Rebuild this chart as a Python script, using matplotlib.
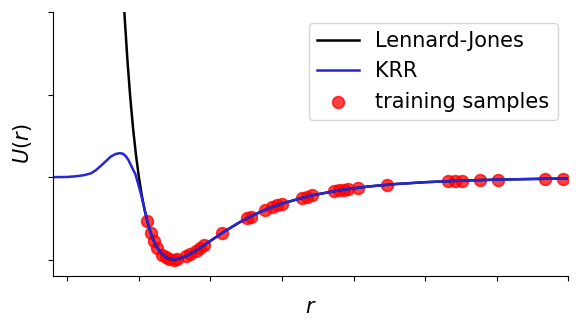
import matplotlib
matplotlib.use("Agg")
import matplotlib.pyplot as plt

# Lennard-Jones reference curve (sigma = epsilon = 1)
r_lj = [0.94, 0.95, 0.96, 0.97, 0.98, 0.99, 1.00, 1.01, 1.02, 1.03, 1.04, 1.05,
        1.06, 1.08, 1.10, 1.12, 1.14, 1.17, 1.20, 1.25, 1.30, 1.35, 1.40, 1.45,
        1.50, 1.60, 1.70, 1.80, 1.90, 2.00, 2.10, 2.20, 2.30, 2.40, 2.50]
u_lj = [2.607, 1.96, 1.418, 0.963, 0.582, 0.264, 0.0, -0.218, -0.398, -0.545,
        -0.663, -0.758, -0.832, -0.932, -0.984, -1.000, -0.992, -0.952, -0.891,
        -0.774, -0.657, -0.552, -0.461, -0.384, -0.320, -0.224, -0.159, -0.114,
        -0.083, -0.0615, -0.046, -0.035, -0.027, -0.021, -0.016]

# KRR prediction
r_krr = [0.70, 0.75, 0.785, 0.81, 0.832, 0.85, 0.866, 0.885, 0.901, 0.918, 0.933,
         0.945, 0.954, 0.963, 0.971, 0.98, 0.988, 0.997, 1.006, 1.013, 1.020,
         1.03, 1.04, 1.05, 1.06, 1.08, 1.10, 1.12, 1.14, 1.17, 1.20, 1.25, 1.30,
         1.35, 1.40, 1.45, 1.50, 1.60, 1.70, 1.80, 1.90, 2.00, 2.10, 2.20, 2.30,
         2.40, 2.50]
u_krr = [0.0, 0.002, 0.012, 0.025, 0.045, 0.085, 0.133, 0.195, 0.247, 0.280, 0.291,
         0.283, 0.255, 0.210, 0.154, 0.090, 0.033, -0.075, -0.19, -0.29, -0.39,
         -0.535, -0.660, -0.758, -0.832, -0.932, -0.984, -0.998, -0.990, -0.950,
         -0.889, -0.772, -0.656, -0.551, -0.460, -0.384, -0.320, -0.224, -0.159,
         -0.114, -0.083, -0.0615, -0.046, -0.035, -0.027, -0.021, -0.016]

# training samples
r_train = [1.029, 1.041, 1.052, 1.064, 1.082, 1.093, 1.105, 1.122, 1.134, 1.163,
           1.180, 1.198, 1.215, 1.229, 1.291, 1.378, 1.390, 1.442, 1.465, 1.483,
           1.500, 1.570, 1.587, 1.605, 1.680, 1.698, 1.715, 1.732, 1.767, 1.866,
           2.081, 2.105, 2.128, 2.192, 2.256, 2.419, 2.480]
u_train = [-0.531, -0.673, -0.774, -0.857, -0.939, -0.970, -0.990, -1.000, -0.996,
           -0.963, -0.933, -0.896, -0.857, -0.824, -0.677, -0.499, -0.478, -0.395,
           -0.364, -0.341, -0.320, -0.249, -0.235, -0.220, -0.170, -0.160, -0.151,
           -0.143, -0.127, -0.093, -0.049, -0.045, -0.043, -0.036, -0.030, -0.020,
           -0.017]

x_ticks = [0.75, 1.0, 1.25, 1.5, 1.75, 2.0, 2.25, 2.5]
y_ticks = [-1, 0, 1, 2]

plt.rcParams.update({"font.size": 15})

fig = plt.figure(figsize=(5.81, 3.29), dpi=100)
ax = fig.add_axes([0.0912, 0.161, 0.887, 0.8016])

ax.plot(r_lj, u_lj, color="black", lw=1.8, label="Lennard-Jones")
ax.plot(r_krr, u_krr, color="#2626d9", lw=1.8, label="KRR")
ax.scatter(r_train, u_train, s=72, color="red", edgecolor="red", linewidth=1.2,
           alpha=0.75, label="training samples")

ax.set_xlim(0.7, 2.5)
ax.set_ylim(-1.2, 2)
ax.set_xticks(x_ticks)
ax.set_yticks(y_ticks)
ax.set_xticklabels([])
ax.set_yticklabels([])
ax.spines["top"].set_visible(False)
ax.spines["right"].set_visible(False)
ax.set_xlabel(r"$r$", labelpad=8)
ax.set_ylabel(r"$U(r)$", labelpad=7)
ax.legend(loc="upper right")

fig.savefig("out.png", dpi=100)
